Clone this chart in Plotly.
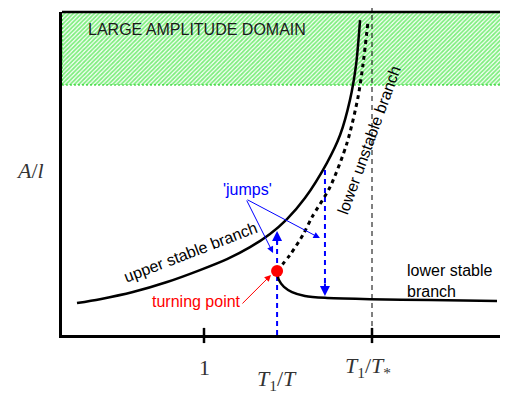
import plotly.graph_objects as go

# ---- data (x in units of T1/T, y in units of A/l, schematic) ----
upper_x = [0.244, 0.381, 0.577, 0.780, 0.976, 1.137, 1.274, 1.393, 1.494, 1.601, 1.732, 1.810, 1.869, 1.905, 1.929]
upper_y = [0.99, 1.11, 1.33, 1.64, 2.01, 2.35, 2.72, 3.13, 3.59, 4.24, 5.33, 6.19, 7.28, 8.36, 9.75]

unstable_x = [1.435, 1.512, 1.589, 1.643, 1.750, 1.851, 1.917, 1.946, 1.976]
unstable_y = [1.98, 2.48, 3.10, 3.65, 4.58, 5.94, 7.37, 8.36, 9.69]

lower_x = [1.435, 1.446, 1.476, 1.524, 1.601, 1.720, 1.988, 2.345, 2.744]
lower_y = [1.98, 1.70, 1.49, 1.33, 1.21, 1.15, 1.11, 1.08, 1.05]

turning_x, turning_y = 1.435, 1.98
jump_up_x, jump_up_top = 1.435, 3.22
jump_down_x, jump_down_top, jump_down_bottom = 1.720, 5.11, 1.21
t_star = 2.0
domain_bottom, domain_top = 7.74, 10.0
x_min, x_max = 0.1548, 2.8095
tick_vals = [1.0, t_star]

fig = go.Figure()

# hatched large amplitude domain
fig.add_trace(go.Scatter(
    x=[x_min, x_max, x_max, x_min, x_min],
    y=[domain_bottom, domain_bottom, domain_top, domain_top, domain_bottom],
    mode="lines", fill="toself",
    line=dict(color="#11cc11", width=1, dash="2px,2px"),
    fillcolor="rgba(0,0,0,0)",
    fillpattern=dict(shape="/", fgcolor="#00dd00", bgcolor="white", size=3, solidity=0.6),
    hoverinfo="skip", showlegend=False))

# blue dashed jumps
fig.add_trace(go.Scatter(x=[jump_up_x, jump_up_x], y=[0, jump_up_top - 0.25], mode="lines",
                         line=dict(color="#0000ff", width=2, dash="5px,4px"), showlegend=False))
fig.add_trace(go.Scatter(x=[jump_down_x, jump_down_x], y=[jump_down_top, jump_down_bottom + 0.25], mode="lines",
                         line=dict(color="#0000ff", width=2, dash="5px,4px"), showlegend=False))

# branches
fig.add_trace(go.Scatter(x=upper_x, y=upper_y, mode="lines",
                         line=dict(color="black", width=2.5, shape="spline", smoothing=0.8), showlegend=False))
fig.add_trace(go.Scatter(x=unstable_x, y=unstable_y, mode="lines",
                         line=dict(color="black", width=3, dash="4px,4px", shape="spline", smoothing=0.8),
                         showlegend=False))
fig.add_trace(go.Scatter(x=lower_x, y=lower_y, mode="lines",
                         line=dict(color="black", width=2.5, shape="spline", smoothing=0.8), showlegend=False))
fig.add_trace(go.Scatter(x=[turning_x], y=[turning_y], mode="markers",
                         marker=dict(color="#ff0000", size=12), showlegend=False))

shapes = [
    # top frame line
    dict(type="line", xref="paper", yref="paper", x0=0, x1=1, y0=1, y1=1, line=dict(color="black", width=2.5)),
    # T* dashed vertical
    dict(type="line", xref="x", yref="paper", x0=t_star, x1=t_star, y0=0, y1=1.031,
         line=dict(color="black", width=1, dash="5px,4px")),
]
for tv in tick_vals:
    shapes.append(dict(type="line", xref="x", yref="paper", x0=tv, x1=tv, y0=-0.025, y1=0.022,
                       line=dict(color="black", width=2.5)))

sans = "Liberation Sans, Arial, Helvetica, sans-serif"
serif = "Liberation Serif, DejaVu Serif, serif"
fs = 16
ann = []
# arrowheads on jumps
ann.append(dict(x=jump_up_x, y=jump_up_top, ax=0, ay=14, showarrow=True, arrowhead=2, arrowsize=1,
                arrowwidth=2, arrowcolor="#0000ff", text=""))
ann.append(dict(x=jump_down_x, y=jump_down_bottom, ax=0, ay=-14, showarrow=True, arrowhead=2, arrowsize=1,
                arrowwidth=2, arrowcolor="#0000ff", text=""))
# jumps pointer arrows
for tx, ty in [(1.411, 2.54), (1.690, 3.00)]:
    ann.append(dict(x=tx, y=ty, ax=1.25, ay=4.21, axref="x", ayref="y", showarrow=True, arrowhead=2,
                    arrowsize=1.3, arrowwidth=1, arrowcolor="#0000ff", text=""))
ann.append(dict(x=1.256, y=4.50, text="'jumps'", showarrow=False, font=dict(family=sans, size=fs, color="#0000ff")))
# turning point
ann.append(dict(x=1.399, y=1.86, ax=1.220, ay=0.93, axref="x", ayref="y", showarrow=True, arrowhead=2,
                arrowsize=1.3, arrowwidth=1, arrowcolor="#ff0000", text=""))
ann.append(dict(x=0.958, y=1.05, text="turning point", showarrow=False, font=dict(family=sans, size=fs, color="#ff0000")))
# branch labels
ann.append(dict(x=0.917, y=2.55, text="upper stable branch", showarrow=False, textangle=-21,
                font=dict(family=sans, size=fs, color="black")))
ann.append(dict(x=1.986, y=6.04, text="lower unstable branch", showarrow=False, textangle=-70,
                font=dict(family=sans, size=fs, color="black")))
ann.append(dict(x=2.196, y=1.67, text="lower stable<br>branch", showarrow=False, align="left", xanchor="left",
                font=dict(family=sans, size=fs, color="black")))
ann.append(dict(x=0.298, y=9.47, text="LARGE AMPLITUDE DOMAIN", showarrow=False, xanchor="left",
                font=dict(family=sans, size=fs, color="#1a1a1a")))
# axis labels
ann.append(dict(x=1.0, yref="paper", y=-0.102, yanchor="middle", text="1", showarrow=False,
                font=dict(family=serif, size=22, color="#333333")))
ann.append(dict(x=1.435, yref="paper", y=-0.139, yanchor="middle", text="<i>T</i><sub>1</sub>/<i>T</i>",
                showarrow=False, font=dict(family=serif, size=22, color="#333333")))
ann.append(dict(x=1.976, yref="paper", y=-0.099, yanchor="middle", text="<i>T</i><sub>1</sub>/<i>T</i><sub>*</sub>",
                showarrow=False, font=dict(family=serif, size=22, color="#333333")))
ann.append(dict(xref="paper", x=-0.072, xanchor="center", yref="paper", y=0.508, yanchor="middle",
                text="<i>A</i>/<i>l</i>", showarrow=False, font=dict(family=serif, size=22, color="#333333")))

fig.update_layout(
    width=500, height=387,
    margin=dict(l=54, r=0, t=4, b=60),
    paper_bgcolor="white", plot_bgcolor="white",
    shapes=shapes, annotations=ann,
    xaxis=dict(range=[x_min, x_max], showgrid=False, zeroline=False, showticklabels=False, ticks="",
               showline=True, linecolor="black", linewidth=2.5, fixedrange=True),
    yaxis=dict(range=[0, 10], showgrid=False, zeroline=False, showticklabels=False, ticks="",
               showline=True, linecolor="black", linewidth=2.5, fixedrange=True),
)
fig.write_html("out.html")
